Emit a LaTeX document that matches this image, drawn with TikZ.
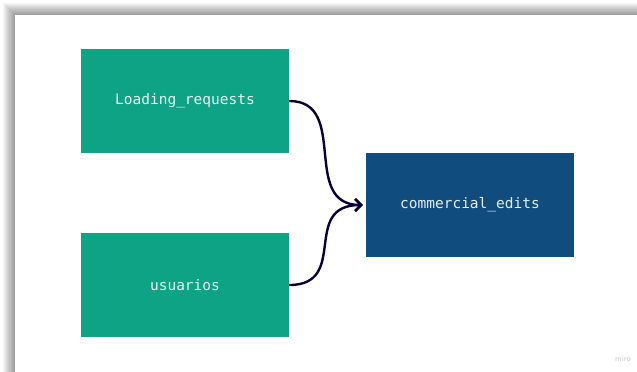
\documentclass[tikz,border=0pt]{standalone}
\usepackage{fontspec}
\setmonofont{DejaVu Sans Mono}
\usepackage{xcolor}
\usepackage{tikz}
\usetikzlibrary{arrows.meta, positioning}
\definecolor{tablegreen}{RGB}{14,163,133}
\definecolor{tableblue}{RGB}{17,76,126}
\definecolor{miroink}{RGB}{5,0,56}

\begin{document}
\begin{tikzpicture}[x=1pt, y=-1pt,
    table/.style={minimum width=208pt, minimum height=104pt, inner sep=0pt,
                  text=white!90!tablegreen, font=\ttfamily\fontsize{14.5}{17}\selectfont},
    link/.style={-{Straight Barb[length=6pt, width=12pt, line width=2.4pt]},
                 line width=2.4pt, miroink}]
  \useasboundingbox (0,0) rectangle (637,372);
  \fill[white] (0,0) rectangle (637,372);

  % board shadow, built from stacked translucent frames
  \foreach \i in {1,...,12}
    \fill[black, opacity=0.035] (15-\i,15-\i) rectangle (660,400);
  \fill[white] (15,15) rectangle (660,400);

  % the tables
  \node[table, fill=tablegreen] (loading) at (185,101) {Loading\_requests};
  \node[table, fill=tablegreen] (usuarios) at (185,285) {usuarios};
  \node[table, fill=tableblue, text=white!90!tableblue] (edits) at (470,205) {commercial\_edits};

  % links into commercial_edits
  \draw[link] (loading.east) .. controls (350,101) and (300,205) .. ([xshift=-3pt]edits.west);
  \draw[link] (usuarios.east) .. controls (350,285) and (300,205) .. ([xshift=-3pt]edits.west);

  % watermark
  \node[font=\sffamily\fontsize{8}{9}\selectfont, text=black!22] (mark) at (623,359) {miro};
\end{tikzpicture}
\end{document}
